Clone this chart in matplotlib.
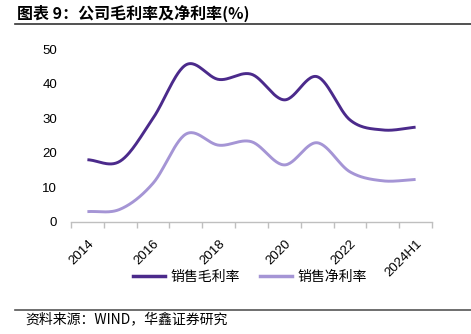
import numpy as np
import matplotlib
matplotlib.use("Agg")
import matplotlib.pyplot as plt
from matplotlib.lines import Line2D

categories = ["2014", "2015", "2016", "2017", "2018", "2019", "2020", "2021", "2022", "2023", "2024H1"]
gross_margin = [18.0, 17.6, 30.0, 45.4, 41.2, 42.7, 35.3, 42.0, 29.5, 26.6, 27.4]
net_margin = [3.0, 3.7, 11.2, 25.4, 22.2, 23.2, 16.5, 22.9, 14.5, 11.9, 12.3]
series_names = ["销售毛利率", "销售净利率"]
title = "图表 9：公司毛利率及净利率(%)"
source = "资料来源：WIND，华鑫证券研究"

dark = "#4b2a8b"
light = "#a595d5"
cjk = ["Noto Sans CJK SC", "DejaVu Sans"]


def smooth(xs, ys, n=30):
    xs = np.asarray(xs, float)
    ys = np.asarray(ys, float)
    px = np.concatenate([[2 * xs[0] - xs[1]], xs, [2 * xs[-1] - xs[-2]]])
    py = np.concatenate([[2 * ys[0] - ys[1]], ys, [2 * ys[-1] - ys[-2]]])
    outx, outy = [], []
    t = np.linspace(0, 1, n)
    for i in range(1, len(px) - 2):
        p0, p1, p2, p3 = (np.array([px[j], py[j]]) for j in range(i - 1, i + 3))
        c1 = p1 + (p2 - p0) / 6.0
        c2 = p2 - (p3 - p1) / 6.0
        b = ((1 - t) ** 3)[:, None] * p1 + (3 * (1 - t) ** 2 * t)[:, None] * c1 + \
            (3 * (1 - t) * t ** 2)[:, None] * c2 + (t ** 3)[:, None] * p2
        outx.extend(b[:, 0])
        outy.extend(b[:, 1])
    return np.array(outx), np.array(outy)


fig = plt.figure(figsize=(4.71, 3.34), dpi=100)
ax = fig.add_axes([71 / 471, (334 - 222) / 334, (432 - 71) / 471, (222 - 49) / 334])

x = np.arange(len(categories))
sx, sy = smooth(x, gross_margin)
ax.plot(sx, sy, color=dark, lw=2.1, solid_capstyle="butt")
sx, sy = smooth(x, net_margin)
ax.plot(sx, sy, color=light, lw=2.1, solid_capstyle="butt")

ax.set_xlim(-0.5, len(categories) - 0.5)
ax.set_ylim(0, 50)
ax.set_yticks([0, 10, 20, 30, 40, 50])
ax.tick_params(axis="y", length=0, pad=10, labelsize=9.5)
for lab in ax.get_yticklabels():
    lab.set_family("Liberation Sans")

ax.set_xticks(x[::2])
ax.set_xticklabels(categories[::2], rotation=45, ha="right", va="top",
                   rotation_mode="anchor", family="Liberation Sans", fontsize=9.5)
ax.set_xticks(np.arange(-0.5, len(categories), 1), minor=True)
ax.tick_params(axis="x", which="major", length=0, pad=11)
ax.tick_params(axis="x", which="minor", length=4, direction="out", color="#bfbfbf", width=1)

for s in ["top", "right", "left"]:
    ax.spines[s].set_visible(False)
ax.spines["bottom"].set_color("#bfbfbf")
ax.spines["bottom"].set_linewidth(1)

handles = [Line2D([], [], color=dark, lw=2.5), Line2D([], [], color=light, lw=2.5)]
fig.legend(handles, series_names, loc="center", bbox_to_anchor=(250 / 471, 1 - 277 / 334),
           ncol=2, frameon=False, prop={"family": cjk, "size": 10}, handlelength=2.3,
           columnspacing=1.4, handletextpad=0.4)

fig.text(17 / 471, 1 - 13 / 334, title, family=cjk, fontsize=11.5, fontweight="bold",
         va="center", ha="left")
fig.add_artist(Line2D([15 / 471, 1], [1 - 23.5 / 334] * 2, color="#333333", lw=1.2))
fig.add_artist(Line2D([15 / 471, 1], [1 - 309.5 / 334] * 2, color="#555555", lw=1.2))
fig.text(25 / 471, 1 - 319 / 334, source, family=cjk, fontsize=10, va="center", ha="left")

fig.savefig("out.png", dpi=100)
